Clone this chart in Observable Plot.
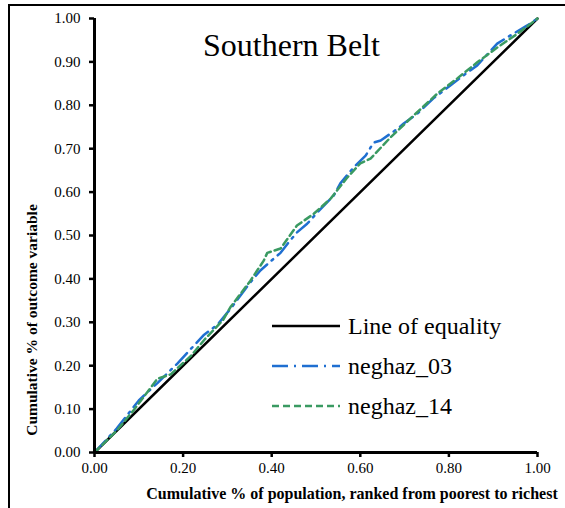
<!DOCTYPE html>
<html>
<head>
<meta charset="utf-8">
<script src="https://cdn.jsdelivr.net/npm/d3@7"></script>
<script src="https://cdn.jsdelivr.net/npm/@observablehq/plot@0.6"></script>
<style>
  html, body { margin: 0; padding: 0; background: #fff; overflow: hidden; }
  #wrap { position: relative; width: 565px; height: 508px; font-family: "Liberation Serif", "Times New Roman", Times, "DejaVu Serif", serif; }
  #frame { position: absolute; left: 8px; top: 4px; width: 600px; height: 600px; border-top: 2px solid #000; border-left: 2px solid #000; box-sizing: border-box; }
  #chart { position: absolute; left: 0; top: 0; }
  .title { position: absolute; left: 203px; top: 25px; font-size: 32px; line-height: 40px; color: #000; white-space: nowrap; }
  .xtitle { position: absolute; left: 0; width: 704px; top: 485px; text-align: center; font-size: 16px; font-weight: bold; white-space: nowrap; }
  .ytitle { position: absolute; left: 32px; top: 320px; transform: translate(-50%, -50%) rotate(-90deg); font-size: 15.5px; font-weight: bold; white-space: nowrap; }
  .legend { position: absolute; left: 268px; top: 306px; }
  .legend .row { display: flex; align-items: center; height: 40px; }
  .legend svg { width: 76px; height: 10px; margin-right: 4px; }
  .legend span { font-size: 24px; line-height: 24px; }
  #chart svg text { font-family: "Liberation Serif", "Times New Roman", Times, "DejaVu Serif", serif; }
</style>
</head>
<body>
<div id="wrap">
  <div id="frame"></div>
  <div id="chart"></div>
  <div class="title">Southern Belt</div>
  <div class="ytitle">Cumulative % of outcome variable</div>
  <div class="xtitle">Cumulative % of population, ranked from poorest to richest</div>
  <div class="legend" id="legend"></div>
</div>
<script>
// ---- data ----
const seriesNames = ["Line of equality", "neghaz_03", "neghaz_14"];
const seriesColors = ["#000000", "#1f6fd1", "#3a9a62"];
const seriesDash = ["none", "16,6,2,6", "7,4"];

const equalityX = [0, 1];
const equalityY = [0, 1];

const neghaz03X = [0, 0.05, 0.10, 0.142, 0.187, 0.246, 0.278, 0.31, 0.35, 0.375, 0.397, 0.42, 0.438, 0.457, 0.48, 0.503, 0.54, 0.555, 0.585, 0.612, 0.63, 0.646, 0.684, 0.698, 0.729, 0.765, 0.804, 0.833, 0.864, 0.909, 0.939, 0.977, 1];
const neghaz03Y = [0, 0.055, 0.12, 0.16, 0.205, 0.27, 0.295, 0.335, 0.39, 0.42, 0.44, 0.46, 0.484, 0.507, 0.527, 0.553, 0.592, 0.62, 0.657, 0.684, 0.714, 0.719, 0.746, 0.758, 0.781, 0.816, 0.846, 0.869, 0.892, 0.942, 0.961, 0.984, 1];

const neghaz14X = [0, 0.05, 0.088, 0.12, 0.142, 0.172, 0.217, 0.25, 0.29, 0.307, 0.352, 0.382, 0.39, 0.42, 0.457, 0.495, 0.533, 0.571, 0.60, 0.623, 0.668, 0.72, 0.774, 0.819, 0.864, 0.909, 0.955, 1];
const neghaz14Y = [0, 0.05, 0.097, 0.14, 0.17, 0.18, 0.222, 0.262, 0.305, 0.335, 0.396, 0.442, 0.46, 0.47, 0.523, 0.55, 0.585, 0.634, 0.666, 0.677, 0.726, 0.776, 0.827, 0.862, 0.899, 0.933, 0.965, 1];

const xTicks = [0, 0.2, 0.4, 0.6, 0.8, 1.0];
const yTicks = [0, 0.1, 0.2, 0.3, 0.4, 0.5, 0.6, 0.7, 0.8, 0.9, 1.0];

// ---- build ----
const toPts = (xs, ys) => xs.map((x, i) => ({x, y: ys[i]}));
const eq = toPts(equalityX, equalityY);
const n03 = toPts(neghaz03X, neghaz03Y);
const n14 = toPts(neghaz14X, neghaz14Y);
const fmt = d3.format(".2f");

const chart = Plot.plot({
  width: 565,
  height: 508,
  marginLeft: 94,
  marginRight: 28,
  marginTop: 18,
  marginBottom: 56,
  style: {fontFamily: "Liberation Serif, Times New Roman, serif", fontSize: "15px", color: "#000", background: "transparent", overflow: "visible"},
  x: {domain: [0, 1]},
  y: {domain: [0, 1]},
  marks: [
    Plot.line(eq, {x: "x", y: "y", stroke: seriesColors[0], strokeWidth: 2.5}),
    Plot.line(n03, {x: "x", y: "y", stroke: seriesColors[1], strokeWidth: 2.5, strokeDasharray: seriesDash[1]}),
    Plot.line(n14, {x: "x", y: "y", stroke: seriesColors[2], strokeWidth: 2.5, strokeDasharray: seriesDash[2]}),
    Plot.ruleX([0], {stroke: "#000", strokeWidth: 3}),
    Plot.ruleY([0], {stroke: "#000", strokeWidth: 3}),
    Plot.axisY({ticks: yTicks, tickFormat: fmt, tickSize: 5, tickPadding: 9, strokeWidth: 2.5, label: null, fill: "#000"}),
    Plot.axisX({ticks: xTicks, tickFormat: fmt, tickSize: 5, tickPadding: 5, strokeWidth: 2.5, label: null, fill: "#000"})
  ]
});
document.getElementById("chart").appendChild(chart);

// legend
const leg = document.getElementById("legend");
seriesNames.forEach((name, i) => {
  const row = document.createElement("div");
  row.className = "row";
  const dash = seriesDash[i] === "none" ? "" : `stroke-dasharray="${seriesDash[i]}"`;
  row.innerHTML = `<svg viewBox="0 0 76 10"><line x1="4" x2="72" y1="5" y2="5" stroke="${seriesColors[i]}" stroke-width="2.5" ${dash}/></svg><span>${name}</span>`;
  leg.appendChild(row);
});
</script>
</body>
</html>
